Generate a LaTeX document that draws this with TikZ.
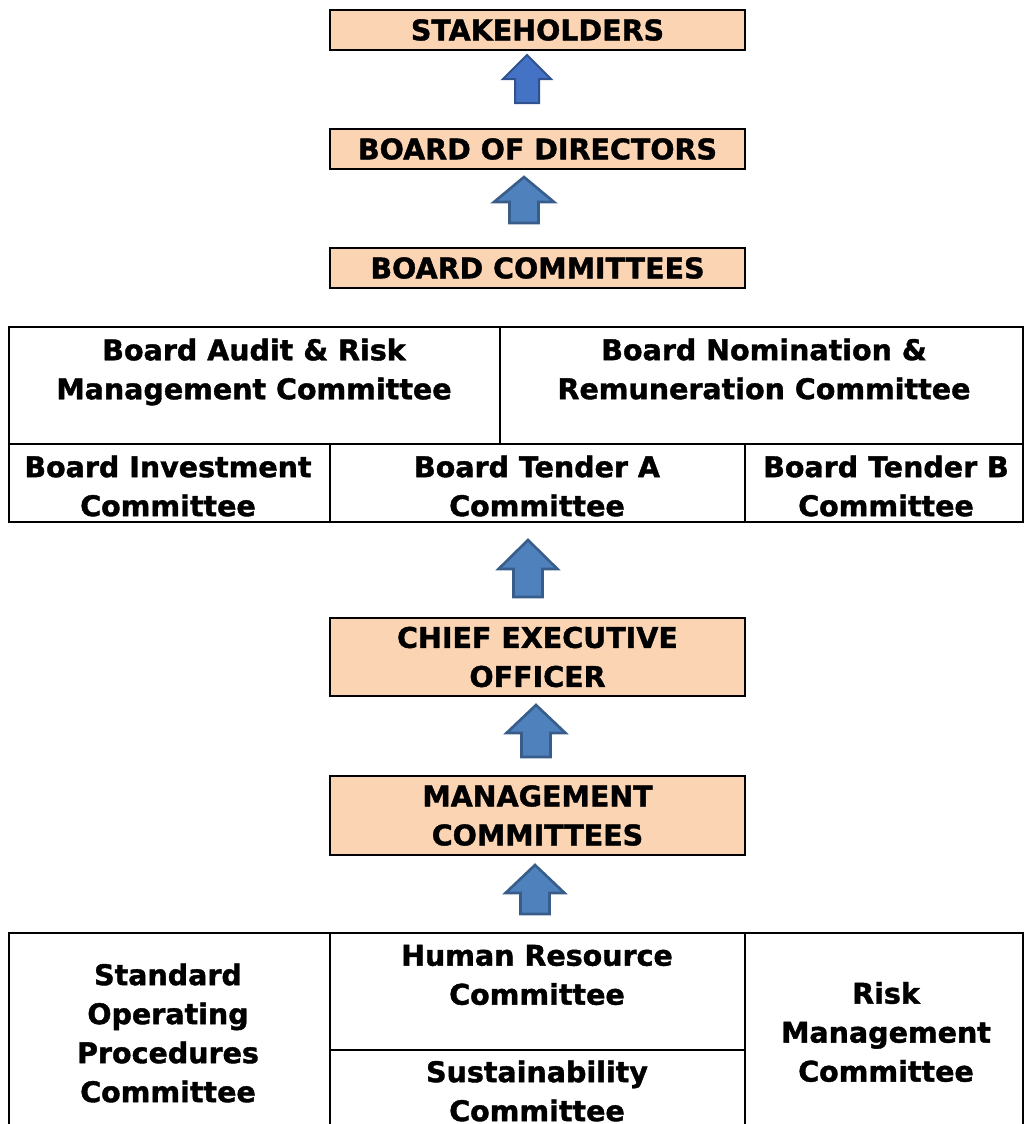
\documentclass[tikz,border=0pt]{standalone}
\usepackage{fontspec}
\setmainfont{DejaVu Sans}[BoldFeatures={FakeBold=1.4}]
\definecolor{LevelPeach}{RGB}{251,212,180}
\definecolor{ArrowBlue}{RGB}{79,129,189}
\definecolor{ArrowEdge}{RGB}{56,93,138}
\definecolor{TopBlue}{RGB}{68,114,196}
\definecolor{TopEdge}{RGB}{47,82,143}
\usepackage{tikz}
\usetikzlibrary{positioning, calc}

\tikzset{
	levelbox/.style={draw=black, line width=1.8pt, fill=LevelPeach,
		minimum width=415pt, minimum height=40pt, inner sep=0pt, align=center},
	cell/.style={inner sep=0pt, align=center},
	grid/.style={draw=black, line width=1.8pt},
	liftarrow/.style={fill=ArrowBlue, draw=ArrowEdge, line width=2.6pt, line join=miter},
	toparrow/.style={fill=TopBlue, draw=TopEdge, line width=2pt, line join=miter},
}
% block arrow: x, tip y, bottom y, half head width, half shaft width, head height
\newcommand{\upblock}[7][liftarrow]{%
	\draw[#1] (#2,#3) -- (#2+#5,#3+#7) -- (#2+#6,#3+#7) -- (#2+#6,#4)
		-- (#2-#6,#4) -- (#2-#6,#3+#7) -- (#2-#5,#3+#7) -- cycle;}

\begin{document}
\begin{tikzpicture}[x=1pt, y=-1pt, font=\fontsize{28.5}{39}\selectfont\bfseries]
	\useasboundingbox (0,0) rectangle (1024,1124);
	% board level
	\node[levelbox] (stake) at (537.5,30) {STAKEHOLDERS};
	\node[levelbox] (bod) at (537.5,149) {BOARD OF DIRECTORS};
	\node[levelbox] (bcom) at (537.5,268) {BOARD COMMITTEES};
	\upblock[toparrow]{527}{55}{103}{24}{12}{24}
	\upblock{524}{177}{223}{30}{14.5}{25}
	% board committees table
	\draw[grid] (9,327) rectangle (1023,522);
	\draw[grid] (9,444) -- (1023,444);
	\draw[grid] (500,327) -- (500,444);
	\draw[grid] (330,444) -- (330,522) (745,444) -- (745,522);
	\node[cell] (audit) at (254,372) {Board Audit \& Risk\\Management Committee};
	\node[cell] (nomin) at (764,369) {Board Nomination \&\\Remuneration Committee};
	\node[cell] (invest) at (168,486) {Board Investment\\Committee};
	\node[cell] (tenda) at (537,486) {Board Tender A\\Committee};
	\node[cell] (tendb) at (886,486) {Board Tender B\\Committee};
	% executive level
	\upblock{528}{540}{597}{29.5}{14.5}{29}
	\upblock{536}{705}{757}{29.5}{14.5}{28}
	\node[levelbox, minimum height=78pt] (ceo) at (537.5,657) {CHIEF EXECUTIVE\\OFFICER};
	\node[levelbox, minimum height=79pt] (mgmt) at (537.5,815.5) {MANAGEMENT\\COMMITTEES};
	\upblock{535}{865}{914}{29.5}{14.5}{28}
	% management committees table
	\draw[grid] (9,933) rectangle (1023,1140);
	\draw[grid] (330,933) -- (330,1140) (745,933) -- (745,1140);
	\draw[grid] (330,1050) -- (745,1050);
	\node[cell] (sop) at (168,1033) {Standard\\Operating\\Procedures\\Committee};
	\node[cell] (hr) at (537,975) {Human Resource\\Committee};
	\node[cell] (sust) at (537,1091) {Sustainability\\Committee};
	\node[cell] (risk) at (886,1032) {Risk\\Management\\Committee};
\end{tikzpicture}
\end{document}
